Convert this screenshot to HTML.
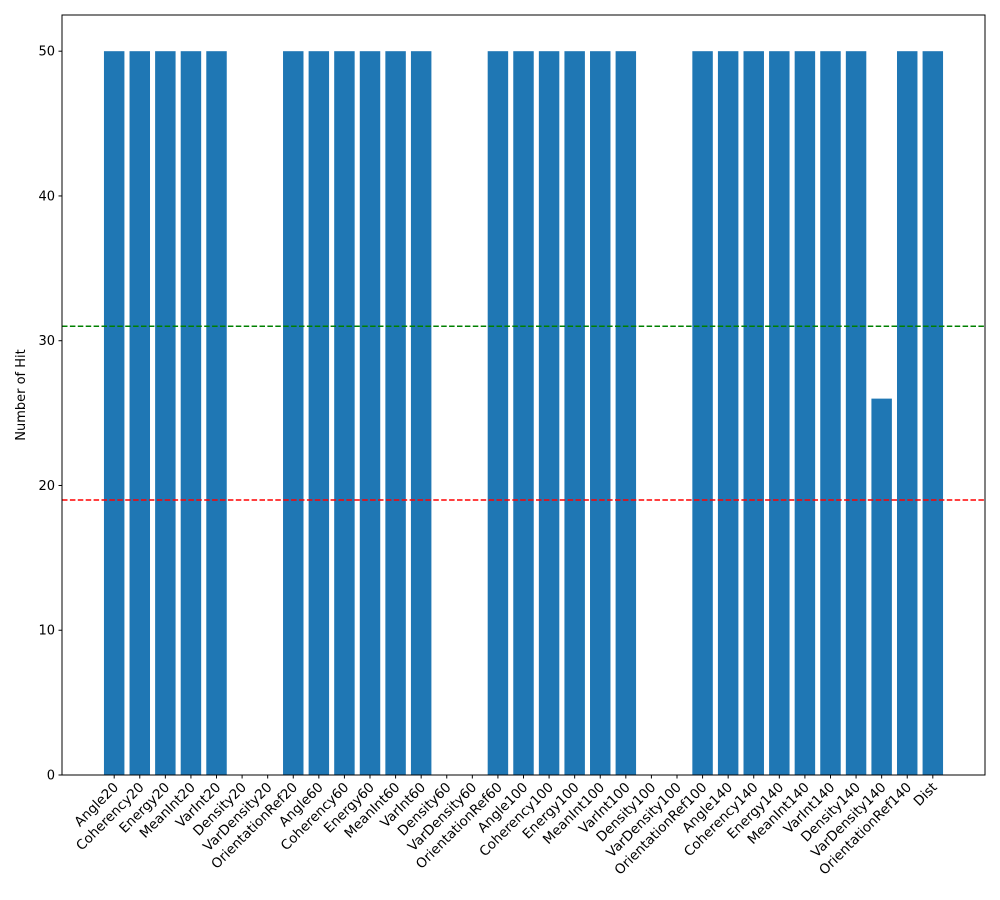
<!DOCTYPE html>
<html><head><meta charset="utf-8"><style>
body{margin:0;background:#fff;}
svg{display:block;font-family:"DejaVu Sans","Liberation Sans",sans-serif;}
</style></head><body>
<svg id="chart" width="1000" height="900"></svg>
<script>
const categories=["Angle20","Coherency20","Energy20","MeanInt20","VarInt20","Density20","VarDensity20","OrientationRef20","Angle60","Coherency60","Energy60","MeanInt60","VarInt60","Density60","VarDensity60","OrientationRef60","Angle100","Coherency100","Energy100","MeanInt100","VarInt100","Density100","VarDensity100","OrientationRef100","Angle140","Coherency140","Energy140","MeanInt140","VarInt140","Density140","VarDensity140","OrientationRef140","Dist"];
const hits=[50,50,50,50,50,0,0,50,50,50,50,50,50,0,0,50,50,50,50,50,50,0,0,50,50,50,50,50,50,50,26,50,50];
const yTicks=[0,10,20,30,40,50];
const greenLine=31;
const redLine=19;

const NS="http://www.w3.org/2000/svg";
const svg=document.getElementById('chart');
const L=62,R=985,T=15,B=775;
const n=categories.length;
const xmin=-0.4-0.05*(n-1+0.8), xmax=n-1+0.4+0.05*(n-1+0.8);
const x=i=>L+(i-xmin)/(xmax-xmin)*(R-L);
const bw=0.8*(R-L)/(xmax-xmin);
const ymax=52.5;
const y=v=>B-v/ymax*(B-T);
function el(tag,attrs){const e=document.createElementNS(NS,tag);for(const k in attrs)e.setAttribute(k,attrs[k]);svg.appendChild(e);return e;}

hits.forEach((v,i)=>{
  const r=el('rect',{x:x(i)-bw/2,y:y(v),width:bw,height:B-y(v),fill:'#1f77b4'});
  
  
});
const g=el('line',{x1:L,x2:R,y1:y(greenLine),y2:y(greenLine),stroke:'green','stroke-width':1.5,'stroke-dasharray':'5.5,2.4'});


const rl=el('line',{x1:L,x2:R,y1:y(redLine),y2:y(redLine),stroke:'red','stroke-width':1.5,'stroke-dasharray':'5.5,2.4'});



const frame=el('rect',{x:L,y:T,width:R-L,height:B-T,fill:'none',stroke:'#000','stroke-width':1});



yTicks.forEach(v=>{
  el('line',{x1:L-3.5,x2:L,y1:y(v),y2:y(v),stroke:'#000'});
  const t=el('text',{x:L-7,y:y(v)+4.5,'text-anchor':'end','font-size':13});
  t.textContent=v;
  
  
});
categories.forEach((c,i)=>{
  el('line',{x1:x(i),x2:x(i),y1:B,y2:B+3.5,stroke:'#000'});
  const t=el('text',{x:0,y:0,'text-anchor':'end','font-size':13.5,transform:`translate(${x(i)+5},${B+13}) rotate(-45)`});
  t.textContent=c;
  
  
});
const yt=el('text',{x:0,y:0,'text-anchor':'middle','font-size':13,transform:`translate(25,${(T+B)/2}) rotate(-90)`});
yt.textContent='Number of Hit';


</script>
</body></html>
